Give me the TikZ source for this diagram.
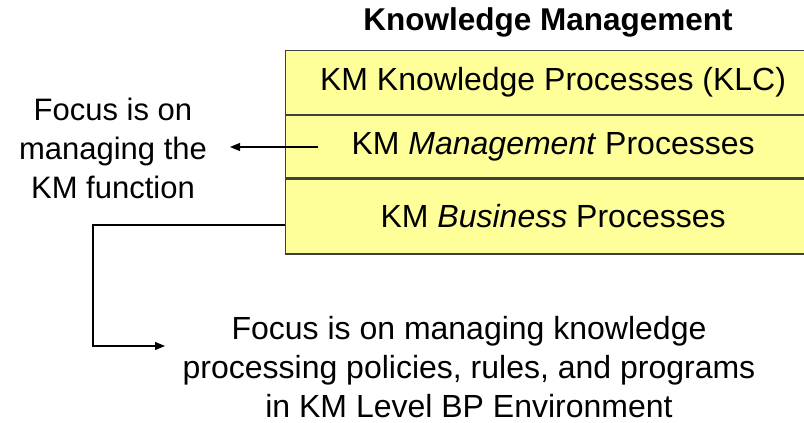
\documentclass[tikz,border=0pt]{standalone}
\usepackage{fontspec}
\setmainfont{Liberation Sans}
\usetikzlibrary{arrows.meta}
\definecolor{kmyellow}{HTML}{FFFF99}
\definecolor{kmedge}{HTML}{404040}
\tikzset{
  layer/.style={draw=kmedge, fill=kmyellow, line width=1.2pt, minimum width=535pt, inner sep=0pt, anchor=north west, font=\fontsize{32}{39}\selectfont},
  note/.style={align=center, inner sep=0pt, font=\fontsize{32}{39}\selectfont},
  arr/.style={-{Triangle[length=10pt,width=8pt]}, line width=1.2pt},
}
\begin{document}
\begin{tikzpicture}[x=1pt,y=-1pt]
\useasboundingbox (0,0) rectangle (804,423);

\node[font=\fontsize{31.5}{39}\selectfont\bfseries] (title) at (548,22) {Knowledge Management};

\node[layer, minimum height=64pt] (klc) at (285,50) {KM Knowledge Processes (KLC)};
\node[layer, minimum height=62pt] (mgmt) at (klc.south west) {KM \textit{Management} Processes};
\node[layer, minimum height=75pt] (bus) at (mgmt.south west) {KM \textit{Business} Processes};

\node[note, font=\fontsize{31}{39}\selectfont] (focusleft) at (113,148) {Focus is on\\managing the\\KM function};
\node[note] (focusbottom) at (469,367) {Focus is on managing knowledge\\processing policies, rules, and programs\\in KM Level BP Environment};

\coordinate (mstart) at (318,147);
\coordinate (mtip) at (230,147);
\coordinate (bstart) at (285,225);
\coordinate (bturn) at (93,346);
\coordinate (btip) at (165,346);

\draw[arr] (mstart) -- (mtip);
\draw[arr] (bstart) -| (bturn) -- (btip);
\end{tikzpicture}
\end{document}
